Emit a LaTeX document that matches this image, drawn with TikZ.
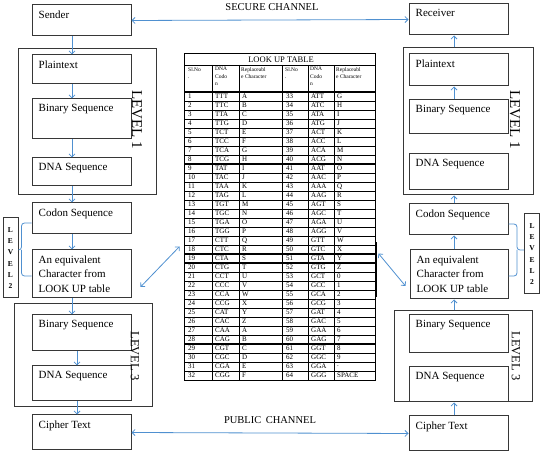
\documentclass[tikz,border=0pt]{standalone}
\usepackage{fontspec}
\setmainfont{Liberation Serif}
\usetikzlibrary{arrows.meta,fit,calc}
\definecolor{arrblue}{RGB}{79,144,208}
\definecolor{boxgray}{RGB}{55,55,55}
\tikzset{
  box/.style={draw=boxgray, line width=1pt, inner sep=0pt},
  tx/.style={anchor=north west, inner sep=0pt, font=\fontsize{11}{14.5}\selectfont, align=left},
  arr/.style={draw=arrblue, line width=0.8pt, -{Straight Barb[length=3pt,width=6pt]}},
  arrs/.style={draw=arrblue, line width=0.8pt, {Straight Barb[length=3pt,width=6pt]}-{Straight Barb[length=3pt,width=6pt]}},
  brc/.style={draw=arrblue, line width=0.8pt, rounded corners=3pt},
  lvlA/.style={font=\fontsize{15}{15}\selectfont, rotate=-90, inner sep=0pt},
  lvlB/.style={font=\fontsize{12.5}{12.5}\selectfont, rotate=-90, inner sep=0pt},
  lvtwo/.style={draw=boxgray, line width=1pt, inner sep=0pt, minimum width=15pt, minimum height=80pt, align=center, font=\fontsize{7.5}{11.3}\selectfont\bfseries},
  chan/.style={font=\fontsize{10.5}{10.5}\selectfont, inner sep=0pt},
  td/.style={anchor=west, inner sep=0pt, font=\fontsize{7}{7}\selectfont},
  th/.style={anchor=north west, inner sep=0pt, align=left, font=\fontsize{5.5}{7.5}\selectfont},
  grid/.style={draw=black, line width=0.5pt},
  thk/.style={draw=black, line width=1.3pt}
}
\begin{document}
\begin{tikzpicture}[x=1pt,y=-1pt]
\useasboundingbox (0,0) rectangle (544,454);

% ---------- outer level boxes ----------
\node[box, fit={(18,49) (156,195)}] (L1L) {};
\node[box, fit={(14,304) (152,407)}] (L3L) {};
\node[box, fit={(403,48) (533,195)}] (L1R) {};
\node[box, fit={(394,311) (532,402)}] (L3R) {};

% ---------- left column ----------
\node[box, fit={(32,5) (131,36)}] (sender) {};
\node[box, fit={(32,55) (131,84)}] (plainL) {};
\node[box, fit={(32,99) (131,139)}] (binL) {};
\node[box, fit={(32,158) (131,186)}] (dnaL) {};
\node[box, fit={(32,203) (131,234)}] (codonL) {};
\node[box, fit={(32,250) (131,298)}] (equivL) {};
\node[box, fit={(32,315) (131,351)}] (bin3L) {};
\node[box, fit={(32,366) (131,401)}] (dna3L) {};
\node[box, fit={(32,415) (131,450)}] (cipherL) {};

\node[tx] (tsender) at ([shift={(7pt,-6pt)}]sender.north west) {Sender};
\node[tx] (tplainL) at ([shift={(7pt,-6pt)}]plainL.north west) {Plaintext};
\node[tx] (tbinL) at ([shift={(7pt,-6pt)}]binL.north west) {Binary Sequence};
\node[tx] (tdnaL) at ([shift={(7pt,-6pt)}]dnaL.north west) {DNA Sequence};
\node[tx] (tcodonL) at ([shift={(7pt,-6pt)}]codonL.north west) {Codon Sequence};
\node[tx] (tequivL) at ([shift={(7pt,-6pt)}]equivL.north west) {An equivalent\\Character from\\LOOK UP table};
\node[tx] (tbin3L) at ([shift={(7pt,-6pt)}]bin3L.north west) {Binary Sequence};
\node[tx] (tdna3L) at ([shift={(7pt,-6pt)}]dna3L.north west) {DNA Sequence};
\node[tx] (tcipherL) at ([shift={(7pt,-6pt)}]cipherL.north west) {Cipher Text};

\node[lvlA] (lv1L) at (137,120) {LEVEL 1};
\node[lvlB] (lv3L) at (135,356) {LEVEL 3};
\node[lvtwo] (lv2L) at (10.5,258) {L\\E\\V\\E\\L\\2};

% ---------- right column ----------
\node[box, fit={(409,4) (508,35)}] (receiver) {};
\node[box, fit={(409,54) (508,86)}] (plainR) {};
\node[box, fit={(409,100) (508,134)}] (binR) {};
\node[box, fit={(409,154) (508,190)}] (dnaR) {};
\node[box, fit={(409,204) (508,235)}] (codonR) {};
\node[box, fit={(410,250) (508,299)}] (equivR) {};
\node[box, fit={(409,315) (508,353)}] (bin3R) {};
\node[box, fit={(409,367) (508,402)}] (dna3R) {};
\node[box, fit={(409,416) (508,451)}] (cipherR) {};

\node[tx] (treceiver) at ([shift={(7pt,-6pt)}]receiver.north west) {Receiver};
\node[tx] (tplainR) at ([shift={(7pt,-6pt)}]plainR.north west) {Plaintext};
\node[tx] (tbinR) at ([shift={(7pt,-6pt)}]binR.north west) {Binary Sequence};
\node[tx] (tdnaR) at ([shift={(7pt,-6pt)}]dnaR.north west) {DNA Sequence};
\node[tx] (tcodonR) at ([shift={(7pt,-6pt)}]codonR.north west) {Codon Sequence};
\node[tx] (tequivR) at ([shift={(7pt,-6pt)}]equivR.north west) {An equivalent\\Character from\\LOOK UP table};
\node[tx] (tbin3R) at ([shift={(7pt,-6pt)}]bin3R.north west) {Binary Sequence};
\node[tx] (tdna3R) at ([shift={(7pt,-6pt)}]dna3R.north west) {DNA Sequence};
\node[tx] (tcipherR) at ([shift={(7pt,-6pt)}]cipherR.north west) {Cipher Text};

\node[lvlA] (lv1R) at (515,120) {LEVEL 1};
\node[lvlB] (lv3R) at (516,356) {LEVEL 3};
\node[lvtwo] (lv2R) at (532,254) {L\\E\\V\\E\\L\\2};

% ---------- vertical arrows ----------
\coordinate (cL) at (72,0);
\coordinate (cLb) at (77,0);
\coordinate (cR) at (454,0);
\draw[arr] (sender.south -| cL) -- (plainL.north -| cL);
\draw[arr] (plainL.south -| cL) -- (binL.north -| cL);
\draw[arr] (binL.south -| cL) -- (dnaL.north -| cL);
\draw[arr] (dnaL.south -| cL) -- (codonL.north -| cL);
\draw[arr] (codonL.south -| cL) -- (equivL.north -| cL);
\draw[arr] (equivL.south -| cL) -- (bin3L.north -| cL);
\draw[arr] (bin3L.south -| cLb) -- (dna3L.north -| cLb);
\draw[arr] (dna3L.south -| cLb) -- (cipherL.north -| cLb);

\draw[arr] (cipherR.north -| cR) -- (L3R.south -| cR);
\draw[arr] (L3R.north -| cR) -- (equivR.south -| cR);
\draw[arr] (equivR.north -| cR) -- (codonR.south -| cR);
\draw[arr] (codonR.north -| cR) -- (L1R.south -| cR);
\draw[arr] (binR.north -| cR) -- (plainR.south -| cR);
\draw[arr] (L1R.north -| cR) -- (receiver.south -| cR);

% ---------- channels ----------
\node[chan] (secure) at (272,7) {SECURE CHANNEL};
\node[chan] (public) at (270,420.5) {PUBLIC\, CHANNEL};
\draw[arrs] (sender.east) -- (receiver.west);
\draw[arrs] (cipherL.east) -- (cipherR.west);

% ---------- level 2 braces ----------
\coordinate (bL) at ([xshift=3pt,yshift=8pt]lv2L.east);
\draw[brc] ([yshift=-4.5pt]codonL.west) -| (bL) -- ([yshift=8pt]lv2L.east);
\draw[brc] ([yshift=-2pt]equivL.west) -| (bL);
\coordinate (bR) at ([xshift=-7pt,yshift=4pt]lv2R.west);
\draw[brc] ([yshift=-4.5pt]codonR.east) -| (bR) -- ([yshift=4pt]lv2R.west);
\draw[brc] ([yshift=-1.5pt]equivR.east) -| (bR);

% ---------- look up table ----------
\node[draw=black, line width=0.9pt, inner sep=0pt, fit={(184,53) (375,380)}] (tab) {};
\node[inner sep=0pt, font=\fontsize{8.5}{8.5}\selectfont] (tabtitle) at (281,59.5) {LOOK UP TABLE};
\draw[grid] (184,65) -- (375,65);
\foreach \x in {212,239,282,308,334} \draw[grid] (\x,65) -- (\x,380);
\foreach \k in {1,...,31} \draw[grid] (184,{92+9*\k}) -- (375,{92+9*\k});
\draw[thk] (184,92) -- (375,92);
\foreach \k in {8,18,19,28} \draw[thk] (184,{92+9*\k}) -- (375,{92+9*\k});

\node[th] (h1) at (188,67) {Sl.No\\.};
\node[th] (h2) at (215,67) {DNA\\Codo\\n};
\node[th] (h3) at (241,67) {Replaceabl\\e Character};
\node[th] (h4) at (285,67) {Sl.No\\.};
\node[th] (h5) at (310,67) {DNA\\Codo\\n};
\node[th] (h6) at (336,67) {Replaceabl\\e Character};

\foreach \i/\c/\r/\j/\d/\s in {
 1/TTT/A/33/ATT/G, 2/TTC/B/34/ATC/H, 3/TTA/C/35/ATA/I, 4/TTG/D/36/ATG/J,
 5/TCT/E/37/ACT/K, 6/TCC/F/38/ACC/L, 7/TCA/G/39/ACA/M, 8/TCG/H/40/ACG/N,
 9/TAT/I/41/AAT/O, 10/TAC/J/42/AAC/P, 11/TAA/K/43/AAA/Q, 12/TAG/L/44/AAG/R,
 13/TGT/M/45/AGT/S, 14/TGC/N/46/AGC/T, 15/TGA/O/47/AGA/U, 16/TGG/P/48/AGG/V,
 17/CTT/Q/49/GTT/W, 18/CTC/R/50/GTC/X, 19/CTA/S/51/GTA/Y, 20/CTG/T/52/GTG/Z,
 21/CCT/U/53/GCT/0, 22/CCC/V/54/GCC/1, 23/CCA/W/55/GCA/2, 24/CCG/X/56/GCG/3,
 25/CAT/Y/57/GAT/4, 26/CAC/Z/58/GAC/5, 27/CAA/A/59/GAA/6, 28/CAG/B/60/GAG/7,
 29/CGT/C/61/GGT/8, 30/CGC/D/62/GGC/9, 31/CGA/E/63/GGA/., 32/CGG/F/64/GGG/SPACE}{
  \node[td] (n\i) at (188,{87.5+9*\i}) {\i};
  \node[td] (c\i) at (215,{87.5+9*\i}) {\c};
  \node[td] (r\i) at (242,{87.5+9*\i}) {\r};
  \node[td] (m\i) at (286,{87.5+9*\i}) {\j};
  \node[td] (d\i) at (311,{87.5+9*\i}) {\d};
  \node[td] (s\i) at (337,{87.5+9*\i}) {\s};
}
\draw[draw=black, line width=1.4pt] ([shift={(1pt,-26pt)}]tab.east) -- ([shift={(1pt,-81pt)}]tab.east);

% ---------- links to the table ----------
\draw[arrs] ([shift={(9pt,-13pt)}]equivL.east) -- ([shift={(-4pt,-30pt)}]tab.west);
\draw[arrs] ([shift={(3pt,-37pt)}]tab.east) -- ([shift={(-4pt,-11.5pt)}]equivR.west);
\end{tikzpicture}
\end{document}
